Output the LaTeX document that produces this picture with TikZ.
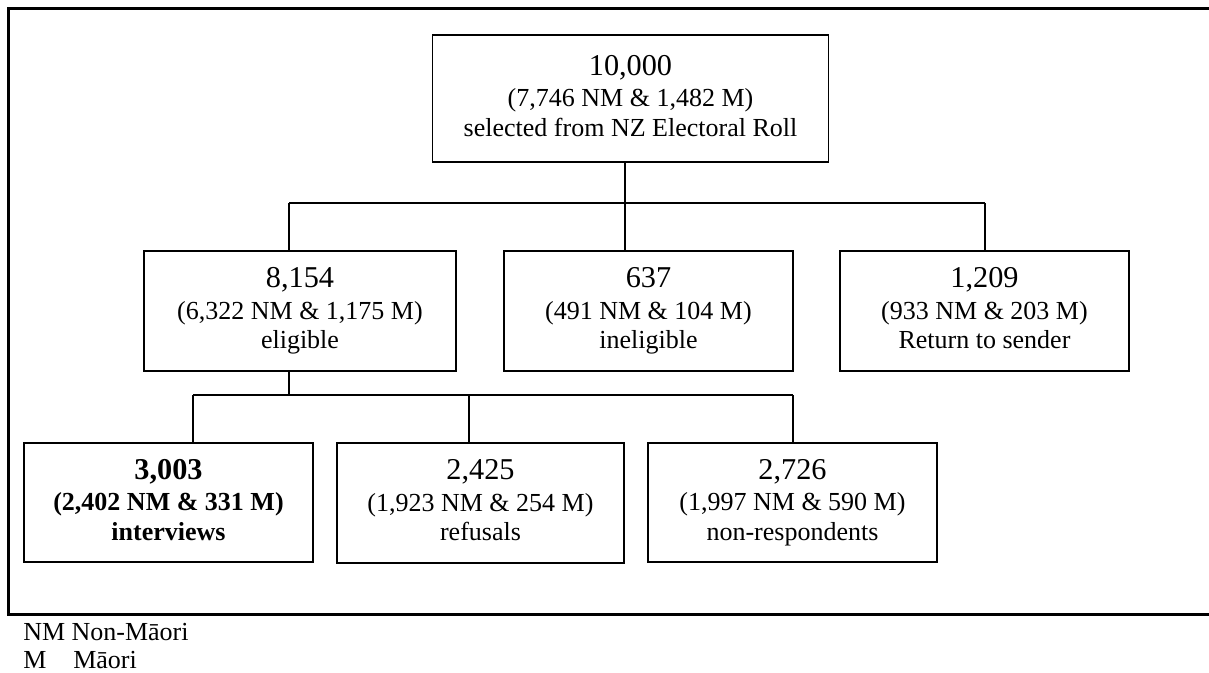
\documentclass[tikz,border=0pt]{standalone}
\usepackage{fontspec}
\setmainfont{Liberation Serif}
\begin{document}
\begin{tikzpicture}[x=0.75pt,y=-0.75pt,
  box/.style={draw,line width=1.4pt,align=center,inner sep=0pt,
    font=\fontsize{19.5}{22}\selectfont},
  conn/.style={line width=1.4pt},
  frame/.style={line width=1.6pt},
  legend/.style={anchor=base west,inner sep=0pt,font=\fontsize{19.5}{22}\selectfont}]
\useasboundingbox (0,0) rectangle (1209,673);
\newcommand{\bignum}[1]{{\fontsize{22.7}{24}\selectfont #1}\\[1.5pt]}
\newcommand{\lastln}[1]{#1\vphantom{g}}
% frame
\draw[frame] (1209,8.5) -- (8.5,8.5) -- (8.5,614.5) -- (1209,614.5);
% boxes
\node[box,minimum width=297pt,minimum height=95.25pt] (top) at (630.5,98.5)
  {\bignum{10,000}(7,746 NM \& 1,482 M)\\\lastln{selected from NZ Electoral Roll}};
\node[box,minimum width=234pt,minimum height=90pt] (elig) at (300,311)
  {\bignum{8,154}(6,322 NM \& 1,175 M)\\\lastln{eligible}};
\node[box,minimum width=216.75pt,minimum height=90pt] (inel) at (648.5,311)
  {\bignum{637}(491 NM \& 104 M)\\\lastln{ineligible}};
\node[box,minimum width=216.75pt,minimum height=90pt] (ret) at (984.5,311)
  {\bignum{1,209}(933 NM \& 203 M)\\\lastln{Return to sender}};
\node[box,minimum width=216.75pt,minimum height=89.25pt,font=\fontsize{19.5}{22}\selectfont\bfseries] (intv) at (168.5,502.5)
  {\bignum{3,003}(2,402 NM \& 331 M)\\\lastln{interviews}};
\node[box,minimum width=215.25pt,minimum height=90pt] (refu) at (480.5,503)
  {\bignum{2,425}(1,923 NM \& 254 M)\\\lastln{refusals}};
\node[box,minimum width=216.75pt,minimum height=89.25pt] (nonr) at (792.5,502.5)
  {\bignum{2,726}(1,997 NM \& 590 M)\\\lastln{non-respondents}};
% connectors level 1
\coordinate (j1) at (625,203);
\coordinate (j1L) at (289,203);
\coordinate (j1R) at (985,203);
\draw[conn] (top.south -| j1) -- (j1);
\draw[conn] (j1L) -- (j1R);
\draw[conn] (j1L) -- (elig.north -| j1L);
\draw[conn] (j1) -- (inel.north -| j1);
\draw[conn] (j1R) -- (ret.north -| j1R);
% connectors level 2
\coordinate (j2) at (289,395);
\coordinate (j2L) at (193,395);
\coordinate (j2M) at (469,395);
\coordinate (j2R) at (793,395);
\draw[conn] (elig.south -| j2) -- (j2);
\draw[conn] (j2L) -- (j2R);
\draw[conn] (j2L) -- (intv.north -| j2L);
\draw[conn] (j2M) -- ([yshift=-1.5pt]refu.north -| j2M);
\draw[conn] (j2R) -- (nonr.north -| j2R);
% legend
\node[legend] (leg1) at (23,640) {NM Non-Māori};
\node[legend] (leg2) at (23,668) {M};
\node[legend] (leg3) at (73,668) {Māori};
\end{tikzpicture}
\end{document}
